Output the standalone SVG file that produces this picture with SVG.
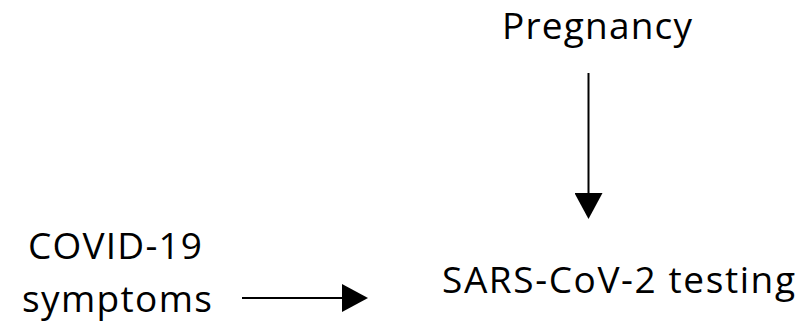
<svg xmlns="http://www.w3.org/2000/svg" width="803" height="322" viewBox="0 0 803 322">
<style>
text{font-family:"Open Sans","Noto Sans","Liberation Sans",sans-serif;font-size:37px;font-weight:500;fill:#000}
.c{stroke:#000;stroke-width:2;fill:none}
</style>
<defs>
<marker id="ah" markerUnits="userSpaceOnUse" markerWidth="27" markerHeight="28" refX="0" refY="14" orient="auto" viewBox="0 0 27 28">
<path d="M0,0 L26,14 L0,28 Z" fill="#000"/>
</marker>
</defs>
<rect width="803" height="322" fill="#fff"/>
<g id="pregnancy"><text x="502" y="39" textLength="190">Pregnancy</text></g>
<g id="covid"><text x="28" y="259" textLength="174">COVID-19</text><text x="22" y="312" textLength="190">symptoms</text></g>
<g id="testing"><text x="442" y="293" textLength="353">SARS-CoV-2 testing</text></g>
<g id="connectors">
<line class="c" x1="588.5" y1="73" x2="588.5" y2="193" marker-end="url(#ah)"/>
<line class="c" x1="242" y1="298" x2="342" y2="298" marker-end="url(#ah)"/>
</g>
</svg>
